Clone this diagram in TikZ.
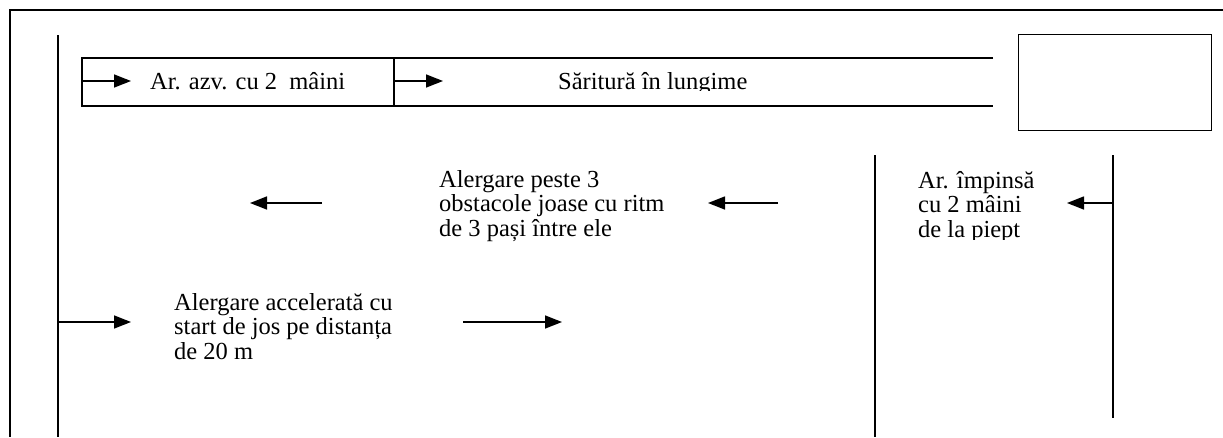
\documentclass[tikz,border=0pt]{standalone}
\usepackage{fontspec}
\setmainfont{Liberation Serif}
\usetikzlibrary{arrows.meta}
\tikzset{
  frameline/.style={line width=1.6pt},
  thinline/.style={line width=1.4pt},
  flowarrow/.style={line width=1.5pt,-{Triangle[length=17pt,width=13pt]}},
  label/.style={inner sep=0pt,anchor=base west,font=\fontsize{24.5}{24.5}\selectfont},
}
\newcommand{\mlines}[1]{\begin{tabular}[t]{@{}l@{}}#1\end{tabular}}
\begin{document}
\begin{tikzpicture}[x=1pt,y=-1pt]
\useasboundingbox (0,0) rectangle (1223,437);
\fill[white] (0,0) rectangle (1223,437);
% outer partial frame
\coordinate (fTR) at (1223,10);
\coordinate (fTL) at (10,10);
\coordinate (fBL) at (10,437);
\draw[frameline] (fTR) -- (fTL) -- (fBL);
% inner left vertical
\coordinate (vLt) at (58,35);
\coordinate (vLb) at (58,437);
\draw[thinline] (vLt) -- (vLb);
% top strip
\coordinate (sTL) at (82,58);
\coordinate (sBL) at (82,106);
\coordinate (sTR) at (993,58);
\coordinate (sBR) at (993,106);
\coordinate (sDt) at (394,58);
\coordinate (sDb) at (394,106);
\draw[thinline] (sTR) -- (sTL) -- (sBL) -- (sBR);
\draw[thinline] (sDt) -- (sDb);
% top-right box
\node[draw,thinline,minimum width=193pt,minimum height=96pt,inner sep=0pt,anchor=north west] (box) at (1018,34) {};
% right verticals
\coordinate (vMt) at (875,155);
\coordinate (vMb) at (875,437);
\coordinate (vRt) at (1113,155);
\coordinate (vRb) at (1113,418);
\draw[thinline] (vMt) -- (vMb);
\draw[thinline] (vRt) -- (vRb);
% strip texts (clipped at the bottom as in the original)
\begin{scope}
\clip (82,58) rectangle (993,90);
\node[label] (t1) at (150,89) {Ar. azv. cu 2\ \ mâini};
\node[label] (t2) at (558,89) {Săritură în lungime};
\end{scope}
% strip arrows
\coordinate (a1s) at (82,81);
\coordinate (a1e) at (131,81);
\coordinate (a2s) at (394,81);
\coordinate (a2e) at (443,81);
\draw[flowarrow] (a1s) -- (a1e);
\draw[flowarrow] (a2s) -- (a2e);
% right text
\begin{scope}
\clip (880,150) rectangle (1110,239);
\node[label] (t3) at (918,188) {\mlines{Ar. împinsă\\cu 2 mâini\\de la piept}};
\end{scope}
% middle text
\node[label] (t4) at (439,187) {\mlines{Alergare peste 3\\obstacole joase cu ritm\\de 3 pași între ele}};
% bottom text
\node[label] (t5) at (174,310) {\mlines{Alergare accelerată cu\\start de jos pe distanța\\de 20 m}};
% middle-row arrows (right to left)
\coordinate (b1s) at (1113,203);
\coordinate (b1e) at (1067,203);
\coordinate (b2s) at (778,203);
\coordinate (b2e) at (708,203);
\coordinate (b3s) at (322,203);
\coordinate (b3e) at (250,203);
\draw[flowarrow] (b1s) -- (b1e);
\draw[flowarrow] (b2s) -- (b2e);
\draw[flowarrow] (b3s) -- (b3e);
% bottom-row arrows
\coordinate (c1s) at (58,322);
\coordinate (c1e) at (131,322);
\coordinate (c2s) at (463,322);
\coordinate (c2e) at (562,322);
\draw[flowarrow] (c1s) -- (c1e);
\draw[flowarrow] (c2s) -- (c2e);
\end{tikzpicture}
\end{document}
